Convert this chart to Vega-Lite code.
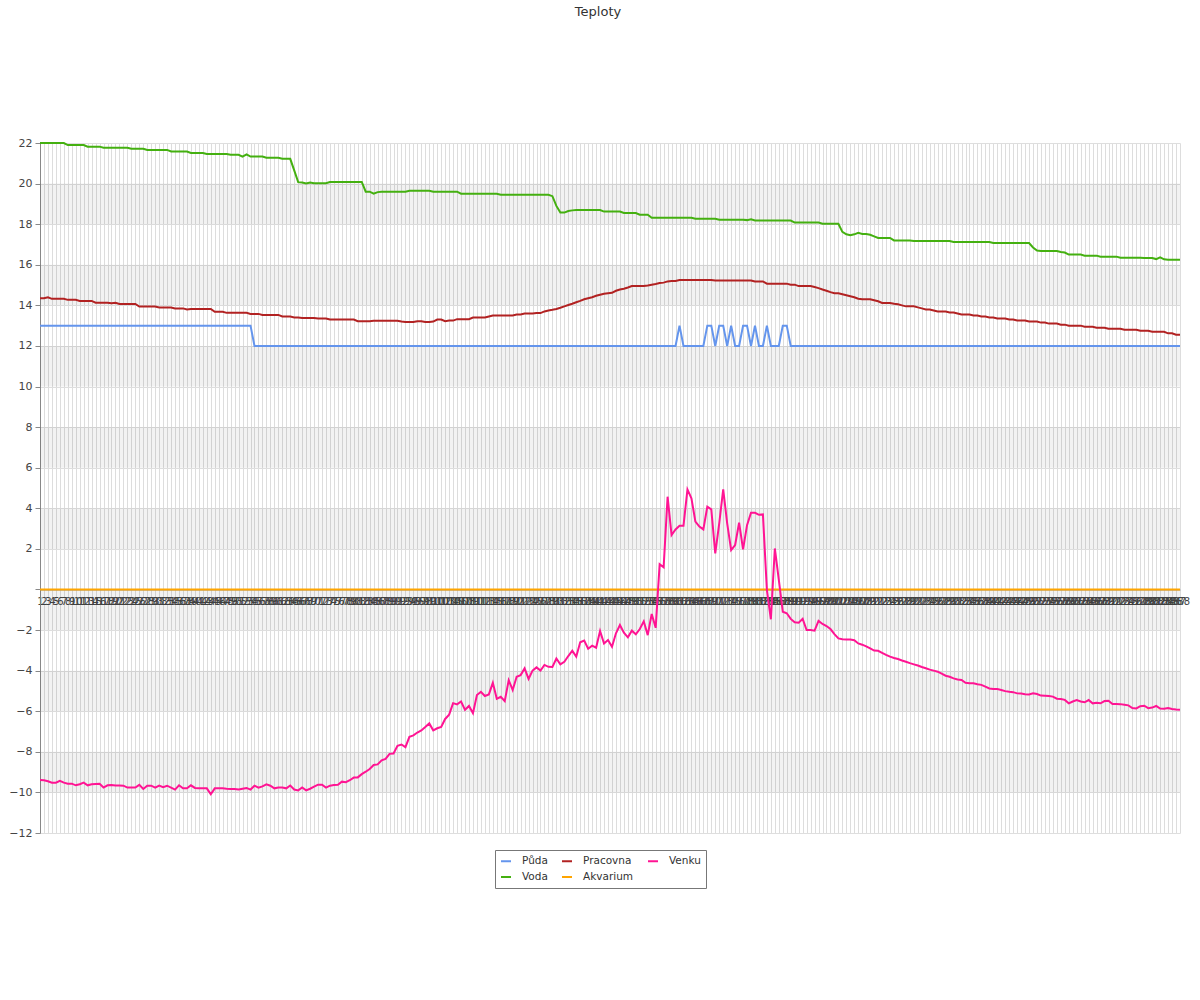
{
"$schema": "https://vega.github.io/schema/vega-lite/v6.json",
"width": 1140,
"height": 690,
"autosize": "none",
"padding": {"left": 40, "top": 143, "right": 20, "bottom": 167},
"background": "#ffffff",
"title": {"text": "Teploty", "anchor": "middle", "dx": -12, "offset": 118, "font": "DejaVu Sans", "fontSize": 13, "fontWeight": "normal", "color": "#333333"},
"config": {"view": {"stroke": null}, "font": "DejaVu Sans"},
"datasets": {
"bands": [{"lo":18,"hi":20},{"lo":14,"hi":16},{"lo":10,"hi":12},{"lo":6,"hi":8},{"lo":2,"hi":4},{"lo":-2,"hi":0},{"lo":-6,"hi":-4},{"lo":-10,"hi":-8}],
"temps": [
{"t":1,"Půda":13,"Voda":22,"Pracovna":14.35,"Akvarium":0,"Venku":-9.39},
{"t":2,"Půda":13,"Voda":22,"Pracovna":14.35,"Akvarium":0,"Venku":-9.4},
{"t":3,"Půda":13,"Voda":22,"Pracovna":14.4,"Akvarium":0,"Venku":-9.45},
{"t":4,"Půda":13,"Voda":22,"Pracovna":14.32,"Akvarium":0,"Venku":-9.52},
{"t":5,"Půda":13,"Voda":22,"Pracovna":14.32,"Akvarium":0,"Venku":-9.52},
{"t":6,"Půda":13,"Voda":22,"Pracovna":14.32,"Akvarium":0,"Venku":-9.43},
{"t":7,"Půda":13,"Voda":22,"Pracovna":14.32,"Akvarium":0,"Venku":-9.52},
{"t":8,"Půda":13,"Voda":21.9,"Pracovna":14.27,"Akvarium":0,"Venku":-9.57},
{"t":9,"Půda":13,"Voda":21.9,"Pracovna":14.27,"Akvarium":0,"Venku":-9.57},
{"t":10,"Půda":13,"Voda":21.9,"Pracovna":14.27,"Akvarium":0,"Venku":-9.65},
{"t":11,"Půda":13,"Voda":21.9,"Pracovna":14.22,"Akvarium":0,"Venku":-9.6},
{"t":12,"Půda":13,"Voda":21.9,"Pracovna":14.22,"Akvarium":0,"Venku":-9.52},
{"t":13,"Půda":13,"Voda":21.82,"Pracovna":14.22,"Akvarium":0,"Venku":-9.65},
{"t":14,"Půda":13,"Voda":21.82,"Pracovna":14.22,"Akvarium":0,"Venku":-9.6},
{"t":15,"Půda":13,"Voda":21.82,"Pracovna":14.13,"Akvarium":0,"Venku":-9.58},
{"t":16,"Půda":13,"Voda":21.82,"Pracovna":14.13,"Akvarium":0,"Venku":-9.57},
{"t":17,"Půda":13,"Voda":21.77,"Pracovna":14.13,"Akvarium":0,"Venku":-9.76},
{"t":18,"Půda":13,"Voda":21.77,"Pracovna":14.13,"Akvarium":0,"Venku":-9.65},
{"t":19,"Půda":13,"Voda":21.77,"Pracovna":14.1,"Akvarium":0,"Venku":-9.63},
{"t":20,"Půda":13,"Voda":21.77,"Pracovna":14.13,"Akvarium":0,"Venku":-9.66},
{"t":21,"Půda":13,"Voda":21.77,"Pracovna":14.07,"Akvarium":0,"Venku":-9.66},
{"t":22,"Půda":13,"Voda":21.77,"Pracovna":14.07,"Akvarium":0,"Venku":-9.67},
{"t":23,"Půda":13,"Voda":21.77,"Pracovna":14.07,"Akvarium":0,"Venku":-9.76},
{"t":24,"Půda":13,"Voda":21.72,"Pracovna":14.07,"Akvarium":0,"Venku":-9.76},
{"t":25,"Půda":13,"Voda":21.72,"Pracovna":14.07,"Akvarium":0,"Venku":-9.76},
{"t":26,"Půda":13,"Voda":21.72,"Pracovna":13.94,"Akvarium":0,"Venku":-9.63},
{"t":27,"Půda":13,"Voda":21.72,"Pracovna":13.94,"Akvarium":0,"Venku":-9.83},
{"t":28,"Půda":13,"Voda":21.66,"Pracovna":13.94,"Akvarium":0,"Venku":-9.67},
{"t":29,"Půda":13,"Voda":21.66,"Pracovna":13.94,"Akvarium":0,"Venku":-9.67},
{"t":30,"Půda":13,"Voda":21.66,"Pracovna":13.94,"Akvarium":0,"Venku":-9.76},
{"t":31,"Půda":13,"Voda":21.66,"Pracovna":13.89,"Akvarium":0,"Venku":-9.66},
{"t":32,"Půda":13,"Voda":21.66,"Pracovna":13.89,"Akvarium":0,"Venku":-9.74},
{"t":33,"Půda":13,"Voda":21.66,"Pracovna":13.89,"Akvarium":0,"Venku":-9.67},
{"t":34,"Půda":13,"Voda":21.58,"Pracovna":13.89,"Akvarium":0,"Venku":-9.76},
{"t":35,"Půda":13,"Voda":21.58,"Pracovna":13.85,"Akvarium":0,"Venku":-9.86},
{"t":36,"Půda":13,"Voda":21.58,"Pracovna":13.85,"Akvarium":0,"Venku":-9.65},
{"t":37,"Půda":13,"Voda":21.58,"Pracovna":13.85,"Akvarium":0,"Venku":-9.8},
{"t":38,"Půda":13,"Voda":21.58,"Pracovna":13.8,"Akvarium":0,"Venku":-9.8},
{"t":39,"Půda":13,"Voda":21.51,"Pracovna":13.82,"Akvarium":0,"Venku":-9.65},
{"t":40,"Půda":13,"Voda":21.51,"Pracovna":13.82,"Akvarium":0,"Venku":-9.78},
{"t":41,"Půda":13,"Voda":21.51,"Pracovna":13.82,"Akvarium":0,"Venku":-9.8},
{"t":42,"Půda":13,"Voda":21.51,"Pracovna":13.82,"Akvarium":0,"Venku":-9.8},
{"t":43,"Půda":13,"Voda":21.46,"Pracovna":13.82,"Akvarium":0,"Venku":-9.8},
{"t":44,"Půda":13,"Voda":21.46,"Pracovna":13.82,"Akvarium":0,"Venku":-10.09},
{"t":45,"Půda":13,"Voda":21.46,"Pracovna":13.68,"Akvarium":0,"Venku":-9.8},
{"t":46,"Půda":13,"Voda":21.46,"Pracovna":13.68,"Akvarium":0,"Venku":-9.8},
{"t":47,"Půda":13,"Voda":21.46,"Pracovna":13.68,"Akvarium":0,"Venku":-9.8},
{"t":48,"Půda":13,"Voda":21.46,"Pracovna":13.63,"Akvarium":0,"Venku":-9.82},
{"t":49,"Půda":13,"Voda":21.42,"Pracovna":13.63,"Akvarium":0,"Venku":-9.83},
{"t":50,"Půda":13,"Voda":21.42,"Pracovna":13.63,"Akvarium":0,"Venku":-9.83},
{"t":51,"Půda":13,"Voda":21.42,"Pracovna":13.63,"Akvarium":0,"Venku":-9.86},
{"t":52,"Půda":13,"Voda":21.33,"Pracovna":13.63,"Akvarium":0,"Venku":-9.82},
{"t":53,"Půda":13,"Voda":21.44,"Pracovna":13.63,"Akvarium":0,"Venku":-9.78},
{"t":54,"Půda":13,"Voda":21.33,"Pracovna":13.58,"Akvarium":0,"Venku":-9.86},
{"t":55,"Půda":12,"Voda":21.33,"Pracovna":13.58,"Akvarium":0,"Venku":-9.67},
{"t":56,"Půda":12,"Voda":21.33,"Pracovna":13.58,"Akvarium":0,"Venku":-9.77},
{"t":57,"Půda":12,"Voda":21.33,"Pracovna":13.53,"Akvarium":0,"Venku":-9.7},
{"t":58,"Půda":12,"Voda":21.27,"Pracovna":13.53,"Akvarium":0,"Venku":-9.6},
{"t":59,"Půda":12,"Voda":21.27,"Pracovna":13.53,"Akvarium":0,"Venku":-9.67},
{"t":60,"Půda":12,"Voda":21.27,"Pracovna":13.53,"Akvarium":0,"Venku":-9.8},
{"t":61,"Půda":12,"Voda":21.27,"Pracovna":13.53,"Akvarium":0,"Venku":-9.76},
{"t":62,"Půda":12,"Voda":21.22,"Pracovna":13.45,"Akvarium":0,"Venku":-9.76},
{"t":63,"Půda":12,"Voda":21.22,"Pracovna":13.45,"Akvarium":0,"Venku":-9.8},
{"t":64,"Půda":12,"Voda":21.22,"Pracovna":13.45,"Akvarium":0,"Venku":-9.66},
{"t":65,"Půda":12,"Voda":20.65,"Pracovna":13.4,"Akvarium":0,"Venku":-9.86},
{"t":66,"Půda":12,"Voda":20.07,"Pracovna":13.4,"Akvarium":0,"Venku":-9.9},
{"t":67,"Půda":12,"Voda":20.05,"Pracovna":13.38,"Akvarium":0,"Venku":-9.76},
{"t":68,"Půda":12,"Voda":20.0,"Pracovna":13.38,"Akvarium":0,"Venku":-9.9},
{"t":69,"Půda":12,"Voda":20.05,"Pracovna":13.38,"Akvarium":0,"Venku":-9.82},
{"t":70,"Půda":12,"Voda":20.02,"Pracovna":13.38,"Akvarium":0,"Venku":-9.72},
{"t":71,"Půda":12,"Voda":20.02,"Pracovna":13.35,"Akvarium":0,"Venku":-9.62},
{"t":72,"Půda":12,"Voda":20.02,"Pracovna":13.35,"Akvarium":0,"Venku":-9.62},
{"t":73,"Půda":12,"Voda":20.02,"Pracovna":13.35,"Akvarium":0,"Venku":-9.76},
{"t":74,"Půda":12,"Voda":20.08,"Pracovna":13.3,"Akvarium":0,"Venku":-9.67},
{"t":75,"Půda":12,"Voda":20.08,"Pracovna":13.3,"Akvarium":0,"Venku":-9.64},
{"t":76,"Půda":12,"Voda":20.08,"Pracovna":13.3,"Akvarium":0,"Venku":-9.62},
{"t":77,"Půda":12,"Voda":20.08,"Pracovna":13.3,"Akvarium":0,"Venku":-9.47},
{"t":78,"Půda":12,"Voda":20.08,"Pracovna":13.3,"Akvarium":0,"Venku":-9.5},
{"t":79,"Půda":12,"Voda":20.08,"Pracovna":13.3,"Akvarium":0,"Venku":-9.4},
{"t":80,"Půda":12,"Voda":20.08,"Pracovna":13.3,"Akvarium":0,"Venku":-9.27},
{"t":81,"Půda":12,"Voda":20.08,"Pracovna":13.22,"Akvarium":0,"Venku":-9.26},
{"t":82,"Půda":12,"Voda":20.08,"Pracovna":13.22,"Akvarium":0,"Venku":-9.1},
{"t":83,"Půda":12,"Voda":19.6,"Pracovna":13.22,"Akvarium":0,"Venku":-8.98},
{"t":84,"Půda":12,"Voda":19.6,"Pracovna":13.22,"Akvarium":0,"Venku":-8.85},
{"t":85,"Půda":12,"Voda":19.5,"Pracovna":13.24,"Akvarium":0,"Venku":-8.65},
{"t":86,"Půda":12,"Voda":19.58,"Pracovna":13.24,"Akvarium":0,"Venku":-8.62},
{"t":87,"Půda":12,"Voda":19.6,"Pracovna":13.24,"Akvarium":0,"Venku":-8.42},
{"t":88,"Půda":12,"Voda":19.6,"Pracovna":13.24,"Akvarium":0,"Venku":-8.35},
{"t":89,"Půda":12,"Voda":19.6,"Pracovna":13.24,"Akvarium":0,"Venku":-8.1},
{"t":90,"Půda":12,"Voda":19.6,"Pracovna":13.24,"Akvarium":0,"Venku":-8.08},
{"t":91,"Půda":12,"Voda":19.6,"Pracovna":13.24,"Akvarium":0,"Venku":-7.7},
{"t":92,"Půda":12,"Voda":19.6,"Pracovna":13.2,"Akvarium":0,"Venku":-7.64},
{"t":93,"Půda":12,"Voda":19.6,"Pracovna":13.18,"Akvarium":0,"Venku":-7.77},
{"t":94,"Půda":12,"Voda":19.65,"Pracovna":13.18,"Akvarium":0,"Venku":-7.26},
{"t":95,"Půda":12,"Voda":19.65,"Pracovna":13.18,"Akvarium":0,"Venku":-7.19},
{"t":96,"Půda":12,"Voda":19.65,"Pracovna":13.22,"Akvarium":0,"Venku":-7.05},
{"t":97,"Půda":12,"Voda":19.65,"Pracovna":13.22,"Akvarium":0,"Venku":-6.95},
{"t":98,"Půda":12,"Voda":19.65,"Pracovna":13.18,"Akvarium":0,"Venku":-6.78},
{"t":99,"Půda":12,"Voda":19.65,"Pracovna":13.18,"Akvarium":0,"Venku":-6.6},
{"t":100,"Půda":12,"Voda":19.6,"Pracovna":13.2,"Akvarium":0,"Venku":-6.94},
{"t":101,"Půda":12,"Voda":19.6,"Pracovna":13.3,"Akvarium":0,"Venku":-6.84},
{"t":102,"Půda":12,"Voda":19.6,"Pracovna":13.3,"Akvarium":0,"Venku":-6.77},
{"t":103,"Půda":12,"Voda":19.6,"Pracovna":13.22,"Akvarium":0,"Venku":-6.38},
{"t":104,"Půda":12,"Voda":19.6,"Pracovna":13.25,"Akvarium":0,"Venku":-6.17},
{"t":105,"Půda":12,"Voda":19.6,"Pracovna":13.25,"Akvarium":0,"Venku":-5.6},
{"t":106,"Půda":12,"Voda":19.6,"Pracovna":13.32,"Akvarium":0,"Venku":-5.66},
{"t":107,"Půda":12,"Voda":19.5,"Pracovna":13.32,"Akvarium":0,"Venku":-5.52},
{"t":108,"Půda":12,"Voda":19.5,"Pracovna":13.32,"Akvarium":0,"Venku":-5.93},
{"t":109,"Půda":12,"Voda":19.5,"Pracovna":13.32,"Akvarium":0,"Venku":-5.74},
{"t":110,"Půda":12,"Voda":19.5,"Pracovna":13.4,"Akvarium":0,"Venku":-6.1},
{"t":111,"Půda":12,"Voda":19.5,"Pracovna":13.4,"Akvarium":0,"Venku":-5.2},
{"t":112,"Půda":12,"Voda":19.5,"Pracovna":13.4,"Akvarium":0,"Venku":-5.04},
{"t":113,"Půda":12,"Voda":19.5,"Pracovna":13.4,"Akvarium":0,"Venku":-5.25},
{"t":114,"Půda":12,"Voda":19.5,"Pracovna":13.45,"Akvarium":0,"Venku":-5.17},
{"t":115,"Půda":12,"Voda":19.5,"Pracovna":13.5,"Akvarium":0,"Venku":-4.6},
{"t":116,"Půda":12,"Voda":19.5,"Pracovna":13.5,"Akvarium":0,"Venku":-5.39},
{"t":117,"Půda":12,"Voda":19.45,"Pracovna":13.5,"Akvarium":0,"Venku":-5.29},
{"t":118,"Půda":12,"Voda":19.45,"Pracovna":13.5,"Akvarium":0,"Venku":-5.5},
{"t":119,"Půda":12,"Voda":19.45,"Pracovna":13.5,"Akvarium":0,"Venku":-4.47},
{"t":120,"Půda":12,"Voda":19.45,"Pracovna":13.5,"Akvarium":0,"Venku":-4.95},
{"t":121,"Půda":12,"Voda":19.45,"Pracovna":13.55,"Akvarium":0,"Venku":-4.3},
{"t":122,"Půda":12,"Voda":19.45,"Pracovna":13.55,"Akvarium":0,"Venku":-4.22},
{"t":123,"Půda":12,"Voda":19.45,"Pracovna":13.6,"Akvarium":0,"Venku":-3.89},
{"t":124,"Půda":12,"Voda":19.45,"Pracovna":13.6,"Akvarium":0,"Venku":-4.41},
{"t":125,"Půda":12,"Voda":19.45,"Pracovna":13.6,"Akvarium":0,"Venku":-4.0},
{"t":126,"Půda":12,"Voda":19.45,"Pracovna":13.62,"Akvarium":0,"Venku":-3.84},
{"t":127,"Půda":12,"Voda":19.45,"Pracovna":13.62,"Akvarium":0,"Venku":-4.0},
{"t":128,"Půda":12,"Voda":19.45,"Pracovna":13.7,"Akvarium":0,"Venku":-3.72},
{"t":129,"Půda":12,"Voda":19.45,"Pracovna":13.75,"Akvarium":0,"Venku":-3.81},
{"t":130,"Půda":12,"Voda":19.38,"Pracovna":13.78,"Akvarium":0,"Venku":-3.82},
{"t":131,"Půda":12,"Voda":18.9,"Pracovna":13.82,"Akvarium":0,"Venku":-3.4},
{"t":132,"Půda":12,"Voda":18.57,"Pracovna":13.88,"Akvarium":0,"Venku":-3.69},
{"t":133,"Půda":12,"Voda":18.57,"Pracovna":13.95,"Akvarium":0,"Venku":-3.56},
{"t":134,"Půda":12,"Voda":18.65,"Pracovna":14.02,"Akvarium":0,"Venku":-3.28},
{"t":135,"Půda":12,"Voda":18.68,"Pracovna":14.08,"Akvarium":0,"Venku":-3.02},
{"t":136,"Půda":12,"Voda":18.7,"Pracovna":14.15,"Akvarium":0,"Venku":-3.31},
{"t":137,"Půda":12,"Voda":18.7,"Pracovna":14.22,"Akvarium":0,"Venku":-2.6},
{"t":138,"Půda":12,"Voda":18.7,"Pracovna":14.3,"Akvarium":0,"Venku":-2.52},
{"t":139,"Půda":12,"Voda":18.7,"Pracovna":14.35,"Akvarium":0,"Venku":-2.92},
{"t":140,"Půda":12,"Voda":18.7,"Pracovna":14.4,"Akvarium":0,"Venku":-2.77},
{"t":141,"Půda":12,"Voda":18.7,"Pracovna":14.47,"Akvarium":0,"Venku":-2.87},
{"t":142,"Půda":12,"Voda":18.7,"Pracovna":14.52,"Akvarium":0,"Venku":-2.05},
{"t":143,"Půda":12,"Voda":18.62,"Pracovna":14.57,"Akvarium":0,"Venku":-2.66},
{"t":144,"Půda":12,"Voda":18.62,"Pracovna":14.6,"Akvarium":0,"Venku":-2.49},
{"t":145,"Půda":12,"Voda":18.62,"Pracovna":14.62,"Akvarium":0,"Venku":-2.82},
{"t":146,"Půda":12,"Voda":18.62,"Pracovna":14.72,"Akvarium":0,"Venku":-2.16},
{"t":147,"Půda":12,"Voda":18.62,"Pracovna":14.78,"Akvarium":0,"Venku":-1.75},
{"t":148,"Půda":12,"Voda":18.55,"Pracovna":14.82,"Akvarium":0,"Venku":-2.13},
{"t":149,"Půda":12,"Voda":18.55,"Pracovna":14.88,"Akvarium":0,"Venku":-2.36},
{"t":150,"Půda":12,"Voda":18.55,"Pracovna":14.95,"Akvarium":0,"Venku":-2.03},
{"t":151,"Půda":12,"Voda":18.55,"Pracovna":14.95,"Akvarium":0,"Venku":-2.21},
{"t":152,"Půda":12,"Voda":18.47,"Pracovna":14.95,"Akvarium":0,"Venku":-1.95},
{"t":153,"Půda":12,"Voda":18.47,"Pracovna":14.95,"Akvarium":0,"Venku":-1.57},
{"t":154,"Půda":12,"Voda":18.47,"Pracovna":14.98,"Akvarium":0,"Venku":-2.25},
{"t":155,"Půda":12,"Voda":18.32,"Pracovna":15.02,"Akvarium":0,"Venku":-1.21},
{"t":156,"Půda":12,"Voda":18.32,"Pracovna":15.05,"Akvarium":0,"Venku":-1.89},
{"t":157,"Půda":12,"Voda":18.32,"Pracovna":15.1,"Akvarium":0,"Venku":1.24},
{"t":158,"Půda":12,"Voda":18.32,"Pracovna":15.12,"Akvarium":0,"Venku":1.09},
{"t":159,"Půda":12,"Voda":18.32,"Pracovna":15.18,"Akvarium":0,"Venku":4.57},
{"t":160,"Půda":12,"Voda":18.32,"Pracovna":15.2,"Akvarium":0,"Venku":2.68},
{"t":161,"Půda":12,"Voda":18.32,"Pracovna":15.2,"Akvarium":0,"Venku":2.96},
{"t":162,"Půda":13,"Voda":18.32,"Pracovna":15.25,"Akvarium":0,"Venku":3.14},
{"t":163,"Půda":12,"Voda":18.32,"Pracovna":15.25,"Akvarium":0,"Venku":3.14},
{"t":164,"Půda":12,"Voda":18.32,"Pracovna":15.25,"Akvarium":0,"Venku":4.93},
{"t":165,"Půda":12,"Voda":18.32,"Pracovna":15.25,"Akvarium":0,"Venku":4.49},
{"t":166,"Půda":12,"Voda":18.27,"Pracovna":15.25,"Akvarium":0,"Venku":3.34},
{"t":167,"Půda":12,"Voda":18.27,"Pracovna":15.25,"Akvarium":0,"Venku":3.1},
{"t":168,"Půda":12,"Voda":18.27,"Pracovna":15.25,"Akvarium":0,"Venku":2.96},
{"t":169,"Půda":13,"Voda":18.27,"Pracovna":15.25,"Akvarium":0,"Venku":4.08},
{"t":170,"Půda":13,"Voda":18.27,"Pracovna":15.25,"Akvarium":0,"Venku":3.95},
{"t":171,"Půda":12,"Voda":18.27,"Pracovna":15.22,"Akvarium":0,"Venku":1.78},
{"t":172,"Půda":13,"Voda":18.22,"Pracovna":15.22,"Akvarium":0,"Venku":3.26},
{"t":173,"Půda":13,"Voda":18.22,"Pracovna":15.22,"Akvarium":0,"Venku":4.93},
{"t":174,"Půda":12,"Voda":18.22,"Pracovna":15.22,"Akvarium":0,"Venku":3.26},
{"t":175,"Půda":13,"Voda":18.22,"Pracovna":15.22,"Akvarium":0,"Venku":1.94},
{"t":176,"Půda":12,"Voda":18.22,"Pracovna":15.22,"Akvarium":0,"Venku":2.19},
{"t":177,"Půda":12,"Voda":18.22,"Pracovna":15.22,"Akvarium":0,"Venku":3.29},
{"t":178,"Půda":13,"Voda":18.22,"Pracovna":15.22,"Akvarium":0,"Venku":1.98},
{"t":179,"Půda":13,"Voda":18.2,"Pracovna":15.22,"Akvarium":0,"Venku":3.17},
{"t":180,"Půda":12,"Voda":18.24,"Pracovna":15.22,"Akvarium":0,"Venku":3.78},
{"t":181,"Půda":13,"Voda":18.18,"Pracovna":15.18,"Akvarium":0,"Venku":3.78},
{"t":182,"Půda":12,"Voda":18.18,"Pracovna":15.18,"Akvarium":0,"Venku":3.68},
{"t":183,"Půda":12,"Voda":18.18,"Pracovna":15.18,"Akvarium":0,"Venku":3.7},
{"t":184,"Půda":13,"Voda":18.18,"Pracovna":15.07,"Akvarium":0,"Venku":-0.03},
{"t":185,"Půda":12,"Voda":18.18,"Pracovna":15.07,"Akvarium":0,"Venku":-1.47},
{"t":186,"Půda":12,"Voda":18.18,"Pracovna":15.07,"Akvarium":0,"Venku":2.02},
{"t":187,"Půda":12,"Voda":18.18,"Pracovna":15.07,"Akvarium":0,"Venku":0.47},
{"t":188,"Půda":13,"Voda":18.18,"Pracovna":15.07,"Akvarium":0,"Venku":-1.1},
{"t":189,"Půda":13,"Voda":18.18,"Pracovna":15.07,"Akvarium":0,"Venku":-1.17},
{"t":190,"Půda":12,"Voda":18.18,"Pracovna":15.02,"Akvarium":0,"Venku":-1.45},
{"t":191,"Půda":12,"Voda":18.08,"Pracovna":15.02,"Akvarium":0,"Venku":-1.62},
{"t":192,"Půda":12,"Voda":18.08,"Pracovna":14.95,"Akvarium":0,"Venku":-1.64},
{"t":193,"Půda":12,"Voda":18.08,"Pracovna":14.95,"Akvarium":0,"Venku":-1.45},
{"t":194,"Půda":12,"Voda":18.08,"Pracovna":14.95,"Akvarium":0,"Venku":-2.0},
{"t":195,"Půda":12,"Voda":18.08,"Pracovna":14.95,"Akvarium":0,"Venku":-2.0},
{"t":196,"Půda":12,"Voda":18.08,"Pracovna":14.9,"Akvarium":0,"Venku":-2.03},
{"t":197,"Půda":12,"Voda":18.08,"Pracovna":14.85,"Akvarium":0,"Venku":-1.55},
{"t":198,"Půda":12,"Voda":18.02,"Pracovna":14.78,"Akvarium":0,"Venku":-1.7},
{"t":199,"Půda":12,"Voda":18.02,"Pracovna":14.72,"Akvarium":0,"Venku":-1.8},
{"t":200,"Půda":12,"Voda":18.02,"Pracovna":14.65,"Akvarium":0,"Venku":-1.95},
{"t":201,"Půda":12,"Voda":18.02,"Pracovna":14.6,"Akvarium":0,"Venku":-2.2},
{"t":202,"Půda":12,"Voda":18.02,"Pracovna":14.6,"Akvarium":0,"Venku":-2.41},
{"t":203,"Půda":12,"Voda":17.62,"Pracovna":14.55,"Akvarium":0,"Venku":-2.45},
{"t":204,"Půda":12,"Voda":17.5,"Pracovna":14.5,"Akvarium":0,"Venku":-2.46},
{"t":205,"Půda":12,"Voda":17.45,"Pracovna":14.45,"Akvarium":0,"Venku":-2.47},
{"t":206,"Půda":12,"Voda":17.5,"Pracovna":14.4,"Akvarium":0,"Venku":-2.5},
{"t":207,"Půda":12,"Voda":17.57,"Pracovna":14.33,"Akvarium":0,"Venku":-2.66},
{"t":208,"Půda":12,"Voda":17.52,"Pracovna":14.3,"Akvarium":0,"Venku":-2.72},
{"t":209,"Půda":12,"Voda":17.52,"Pracovna":14.3,"Akvarium":0,"Venku":-2.8},
{"t":210,"Půda":12,"Voda":17.48,"Pracovna":14.3,"Akvarium":0,"Venku":-2.9},
{"t":211,"Půda":12,"Voda":17.4,"Pracovna":14.25,"Akvarium":0,"Venku":-3.01},
{"t":212,"Půda":12,"Voda":17.32,"Pracovna":14.2,"Akvarium":0,"Venku":-3.02},
{"t":213,"Půda":12,"Voda":17.32,"Pracovna":14.12,"Akvarium":0,"Venku":-3.12},
{"t":214,"Půda":12,"Voda":17.32,"Pracovna":14.12,"Akvarium":0,"Venku":-3.22},
{"t":215,"Půda":12,"Voda":17.32,"Pracovna":14.12,"Akvarium":0,"Venku":-3.31},
{"t":216,"Půda":12,"Voda":17.2,"Pracovna":14.08,"Akvarium":0,"Venku":-3.38},
{"t":217,"Půda":12,"Voda":17.2,"Pracovna":14.05,"Akvarium":0,"Venku":-3.43},
{"t":218,"Půda":12,"Voda":17.2,"Pracovna":14.0,"Akvarium":0,"Venku":-3.5},
{"t":219,"Půda":12,"Voda":17.2,"Pracovna":13.95,"Akvarium":0,"Venku":-3.56},
{"t":220,"Půda":12,"Voda":17.2,"Pracovna":13.95,"Akvarium":0,"Venku":-3.63},
{"t":221,"Půda":12,"Voda":17.17,"Pracovna":13.95,"Akvarium":0,"Venku":-3.69},
{"t":222,"Půda":12,"Voda":17.17,"Pracovna":13.9,"Akvarium":0,"Venku":-3.75},
{"t":223,"Půda":12,"Voda":17.17,"Pracovna":13.85,"Akvarium":0,"Venku":-3.82},
{"t":224,"Půda":12,"Voda":17.17,"Pracovna":13.8,"Akvarium":0,"Venku":-3.88},
{"t":225,"Půda":12,"Voda":17.17,"Pracovna":13.8,"Akvarium":0,"Venku":-3.95},
{"t":226,"Půda":12,"Voda":17.17,"Pracovna":13.75,"Akvarium":0,"Venku":-4.0},
{"t":227,"Půda":12,"Voda":17.17,"Pracovna":13.7,"Akvarium":0,"Venku":-4.05},
{"t":228,"Půda":12,"Voda":17.17,"Pracovna":13.7,"Akvarium":0,"Venku":-4.15},
{"t":229,"Půda":12,"Voda":17.17,"Pracovna":13.7,"Akvarium":0,"Venku":-4.25},
{"t":230,"Půda":12,"Voda":17.17,"Pracovna":13.65,"Akvarium":0,"Venku":-4.3},
{"t":231,"Půda":12,"Voda":17.12,"Pracovna":13.65,"Akvarium":0,"Venku":-4.38},
{"t":232,"Půda":12,"Voda":17.12,"Pracovna":13.6,"Akvarium":0,"Venku":-4.44},
{"t":233,"Půda":12,"Voda":17.12,"Pracovna":13.55,"Akvarium":0,"Venku":-4.46},
{"t":234,"Půda":12,"Voda":17.12,"Pracovna":13.55,"Akvarium":0,"Venku":-4.6},
{"t":235,"Půda":12,"Voda":17.12,"Pracovna":13.55,"Akvarium":0,"Venku":-4.62},
{"t":236,"Půda":12,"Voda":17.12,"Pracovna":13.5,"Akvarium":0,"Venku":-4.62},
{"t":237,"Půda":12,"Voda":17.12,"Pracovna":13.5,"Akvarium":0,"Venku":-4.67},
{"t":238,"Půda":12,"Voda":17.12,"Pracovna":13.45,"Akvarium":0,"Venku":-4.7},
{"t":239,"Půda":12,"Voda":17.12,"Pracovna":13.45,"Akvarium":0,"Venku":-4.79},
{"t":240,"Půda":12,"Voda":17.12,"Pracovna":13.4,"Akvarium":0,"Venku":-4.88},
{"t":241,"Půda":12,"Voda":17.07,"Pracovna":13.4,"Akvarium":0,"Venku":-4.9},
{"t":242,"Půda":12,"Voda":17.07,"Pracovna":13.35,"Akvarium":0,"Venku":-4.91},
{"t":243,"Půda":12,"Voda":17.07,"Pracovna":13.35,"Akvarium":0,"Venku":-4.95},
{"t":244,"Půda":12,"Voda":17.07,"Pracovna":13.35,"Akvarium":0,"Venku":-5.01},
{"t":245,"Půda":12,"Voda":17.07,"Pracovna":13.3,"Akvarium":0,"Venku":-5.04},
{"t":246,"Půda":12,"Voda":17.07,"Pracovna":13.3,"Akvarium":0,"Venku":-5.06},
{"t":247,"Půda":12,"Voda":17.07,"Pracovna":13.25,"Akvarium":0,"Venku":-5.12},
{"t":248,"Půda":12,"Voda":17.07,"Pracovna":13.25,"Akvarium":0,"Venku":-5.13},
{"t":249,"Půda":12,"Voda":17.07,"Pracovna":13.25,"Akvarium":0,"Venku":-5.16},
{"t":250,"Půda":12,"Voda":17.07,"Pracovna":13.2,"Akvarium":0,"Venku":-5.17},
{"t":251,"Půda":12,"Voda":16.85,"Pracovna":13.2,"Akvarium":0,"Venku":-5.12},
{"t":252,"Půda":12,"Voda":16.7,"Pracovna":13.2,"Akvarium":0,"Venku":-5.15},
{"t":253,"Půda":12,"Voda":16.68,"Pracovna":13.15,"Akvarium":0,"Venku":-5.23},
{"t":254,"Půda":12,"Voda":16.68,"Pracovna":13.15,"Akvarium":0,"Venku":-5.24},
{"t":255,"Půda":12,"Voda":16.68,"Pracovna":13.1,"Akvarium":0,"Venku":-5.25},
{"t":256,"Půda":12,"Voda":16.68,"Pracovna":13.1,"Akvarium":0,"Venku":-5.28},
{"t":257,"Půda":12,"Voda":16.68,"Pracovna":13.1,"Akvarium":0,"Venku":-5.38},
{"t":258,"Půda":12,"Voda":16.63,"Pracovna":13.05,"Akvarium":0,"Venku":-5.4},
{"t":259,"Půda":12,"Voda":16.6,"Pracovna":13.05,"Akvarium":0,"Venku":-5.44},
{"t":260,"Půda":12,"Voda":16.5,"Pracovna":13.0,"Akvarium":0,"Venku":-5.61},
{"t":261,"Půda":12,"Voda":16.5,"Pracovna":13.0,"Akvarium":0,"Venku":-5.52},
{"t":262,"Půda":12,"Voda":16.5,"Pracovna":13.0,"Akvarium":0,"Venku":-5.45},
{"t":263,"Půda":12,"Voda":16.5,"Pracovna":13.0,"Akvarium":0,"Venku":-5.52},
{"t":264,"Půda":12,"Voda":16.45,"Pracovna":12.95,"Akvarium":0,"Venku":-5.56},
{"t":265,"Půda":12,"Voda":16.45,"Pracovna":12.95,"Akvarium":0,"Venku":-5.45},
{"t":266,"Půda":12,"Voda":16.45,"Pracovna":12.95,"Akvarium":0,"Venku":-5.61},
{"t":267,"Půda":12,"Voda":16.45,"Pracovna":12.9,"Akvarium":0,"Venku":-5.58},
{"t":268,"Půda":12,"Voda":16.4,"Pracovna":12.9,"Akvarium":0,"Venku":-5.61},
{"t":269,"Půda":12,"Voda":16.4,"Pracovna":12.9,"Akvarium":0,"Venku":-5.5},
{"t":270,"Půda":12,"Voda":16.4,"Pracovna":12.85,"Akvarium":0,"Venku":-5.48},
{"t":271,"Půda":12,"Voda":16.4,"Pracovna":12.85,"Akvarium":0,"Venku":-5.64},
{"t":272,"Půda":12,"Voda":16.4,"Pracovna":12.85,"Akvarium":0,"Venku":-5.64},
{"t":273,"Půda":12,"Voda":16.35,"Pracovna":12.85,"Akvarium":0,"Venku":-5.65},
{"t":274,"Půda":12,"Voda":16.35,"Pracovna":12.8,"Akvarium":0,"Venku":-5.68},
{"t":275,"Půda":12,"Voda":16.35,"Pracovna":12.8,"Akvarium":0,"Venku":-5.71},
{"t":276,"Půda":12,"Voda":16.35,"Pracovna":12.8,"Akvarium":0,"Venku":-5.84},
{"t":277,"Půda":12,"Voda":16.35,"Pracovna":12.8,"Akvarium":0,"Venku":-5.86},
{"t":278,"Půda":12,"Voda":16.35,"Pracovna":12.75,"Akvarium":0,"Venku":-5.75},
{"t":279,"Půda":12,"Voda":16.33,"Pracovna":12.75,"Akvarium":0,"Venku":-5.73},
{"t":280,"Půda":12,"Voda":16.33,"Pracovna":12.75,"Akvarium":0,"Venku":-5.85},
{"t":281,"Půda":12,"Voda":16.33,"Pracovna":12.7,"Akvarium":0,"Venku":-5.82},
{"t":282,"Půda":12,"Voda":16.28,"Pracovna":12.7,"Akvarium":0,"Venku":-5.74},
{"t":283,"Půda":12,"Voda":16.37,"Pracovna":12.7,"Akvarium":0,"Venku":-5.87},
{"t":284,"Půda":12,"Voda":16.27,"Pracovna":12.7,"Akvarium":0,"Venku":-5.88},
{"t":285,"Půda":12,"Voda":16.25,"Pracovna":12.62,"Akvarium":0,"Venku":-5.84},
{"t":286,"Půda":12,"Voda":16.25,"Pracovna":12.62,"Akvarium":0,"Venku":-5.89},
{"t":287,"Půda":12,"Voda":16.25,"Pracovna":12.55,"Akvarium":0,"Venku":-5.92},
{"t":288,"Půda":12,"Voda":16.25,"Pracovna":12.55,"Akvarium":0,"Venku":-5.93}
]
},
"layer": [
{
"data": {"name": "bands"},
"mark": {"type": "rect", "fill": "#000000", "fillOpacity": 0.05},
"encoding": {
"y": {"field": "lo", "type": "quantitative", "title": null, "scale": {"domain": [-12, 22], "nice": false, "zero": false},
"axis": {"title": null, "values": [-12,-11,-10,-9,-8,-7,-6,-5,-4,-3,-2,-1,0,1,2,3,4,5,6,7,8,9,10,11,12,13,14,15,16,17,18,19,20,21,22],
"labelExpr": "datum.value % 2 === 0 && datum.value !== 0 ? datum.label : ''",
"gridColor": "#dedede", "gridOpacity": {"condition": {"test": "datum.value % 2 !== 0", "value": 0}, "value": 1},
"domainColor": "#888888", "tickColor": "#888888", "tickSize": 5, "labelPadding": 3, "labelFontSize": 11, "labelColor": "#444444", "labelFont": "DejaVu Sans"}},
"y2": {"field": "hi"}
}
},
{
"data": {"name": "temps"},
"transform": [{"fold": ["Půda", "Voda", "Pracovna", "Akvarium", "Venku"], "as": ["serie", "teplota"]}],
"mark": {"type": "line", "strokeWidth": 2},
"encoding": {
"x": {"field": "t", "type": "ordinal", "scale": {"type": "point", "padding": 0},
"axis": {"title": null, "offset": -243.5, "labelAngle": 0, "labelOverlap": false, "labelFontSize": 10, "labelColor": "#444444", "labelPadding": 7, "ticks": false, "domainColor": "#999999", "grid": true, "gridColor": "#dddddd", "labelFont": "DejaVu Sans", "labelBound": false, "labelFlush": false}},
"y": {"field": "teplota", "type": "quantitative", "title": null},
"color": {"field": "serie", "type": "nominal",
"scale": {"domain": ["Půda", "Voda", "Pracovna", "Akvarium", "Venku"], "range": ["#6495ED", "#44B010", "#B22222", "#FFA500", "#FF1493"]},
"legend": {"orient": "none", "legendX": 455, "legendY": 707, "columns": 3, "title": null, "symbolType": "stroke", "symbolStrokeWidth": 2, "symbolSize": 100, "labelFontSize": 10.5, "labelFont": "DejaVu Sans", "labelColor": "#333333", "labelOffset": 10, "columnPadding": 10, "rowPadding": 4, "padding": 5, "strokeColor": "#777777", "fillColor": "#ffffff", "cornerRadius": 0}}
}
}
]
}
